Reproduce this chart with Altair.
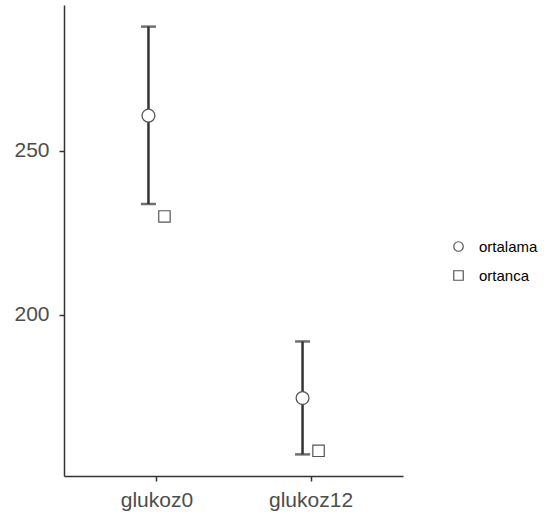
import altair as alt
import pandas as pd

categories = ["glukoz0", "glukoz12"]
means = [260.8, 174.5]
lower = [233.8, 157.3]
upper = [288.0, 191.8]
medians = [230.0, 158.4]

df = pd.DataFrame({
    "cat": categories,
    "mean": means,
    "lo": lower,
    "hi": upper,
    "median": medians,
    "s_mean": ["ortalama"] * len(categories),
    "s_med": ["ortanca"] * len(categories),
})

FONT = "Liberation Sans"
x_enc = alt.X("cat:N", scale=alt.Scale(type="point", padding=0.6, domain=categories),
              axis=alt.Axis(title=None, labelAngle=0, labelFontSize=21, labelColor="#4d4d4d",
                            labelFont=FONT, tickSize=5, tickColor="#333333", tickWidth=1.5,
                            domainColor="#333333", domainWidth=1.5, labelPadding=8, grid=False))
y_scale = alt.Scale(domain=[150.7, 294.6], nice=False, zero=False)
y_axis = alt.Axis(title=None, values=[200, 250], labelFontSize=21, labelColor="#4d4d4d",
                  labelFont=FONT, tickSize=5, tickColor="#333333", tickWidth=1.5,
                  domainColor="#333333", domainWidth=1.5, labelPadding=10, grid=False)

stats = ["ortalama", "ortanca"]
shape_scale = alt.Scale(domain=stats, range=["circle", "square"])
stroke_scale = alt.Scale(domain=stats, range=["#555555", "#555555"])
legend = alt.Legend(title=None, orient="none", legendX=387, legendY=234, labelFont=FONT,
                    labelFontSize=15, labelColor="#000000",
                    symbolFillColor="white", symbolSize=90, symbolStrokeWidth=1.2,
                    rowPadding=13, labelOffset=13)

base = alt.Chart(df)

rule = base.mark_rule(color="#333333", strokeWidth=2.5, xOffset=-8).encode(
    x=x_enc, y=alt.Y("lo:Q", scale=y_scale, axis=y_axis), y2="hi:Q")
cap_lo = base.mark_tick(color="#333333", thickness=2.5, size=15, xOffset=-8, orient="horizontal").encode(
    x=x_enc, y=alt.Y("lo:Q", scale=y_scale))
cap_hi = base.mark_tick(color="#333333", thickness=2.5, size=15, xOffset=-8, orient="horizontal").encode(
    x=x_enc, y=alt.Y("hi:Q", scale=y_scale))
mean_pts = base.mark_point(filled=True, fill="white", fillOpacity=1,
                           strokeWidth=1.3, size=165, opacity=1, xOffset=-8).encode(
    x=x_enc, y=alt.Y("mean:Q", scale=y_scale),
    shape=alt.Shape("s_mean:N", scale=shape_scale, legend=legend),
    stroke=alt.Stroke("s_mean:N", scale=stroke_scale, legend=legend))
med_pts = base.mark_point(filled=True, fill="white", fillOpacity=1,
                          strokeWidth=1.2, size=130, opacity=1, xOffset=8).encode(
    x=x_enc, y=alt.Y("median:Q", scale=y_scale),
    shape=alt.Shape("s_med:N", scale=shape_scale, legend=legend),
    stroke=alt.Stroke("s_med:N", scale=stroke_scale, legend=legend))

chart = alt.layer(rule, cap_lo, cap_hi, mean_pts, med_pts).properties(
    width=339, height=471,
    autosize=alt.AutoSizeParams(type="none"),
    padding={"left": 64, "top": 5, "right": 142, "bottom": 47},
    background="white",
).configure_view(stroke=None)

chart.save("out.html", embed_options={"renderer": "svg", "actions": False})
